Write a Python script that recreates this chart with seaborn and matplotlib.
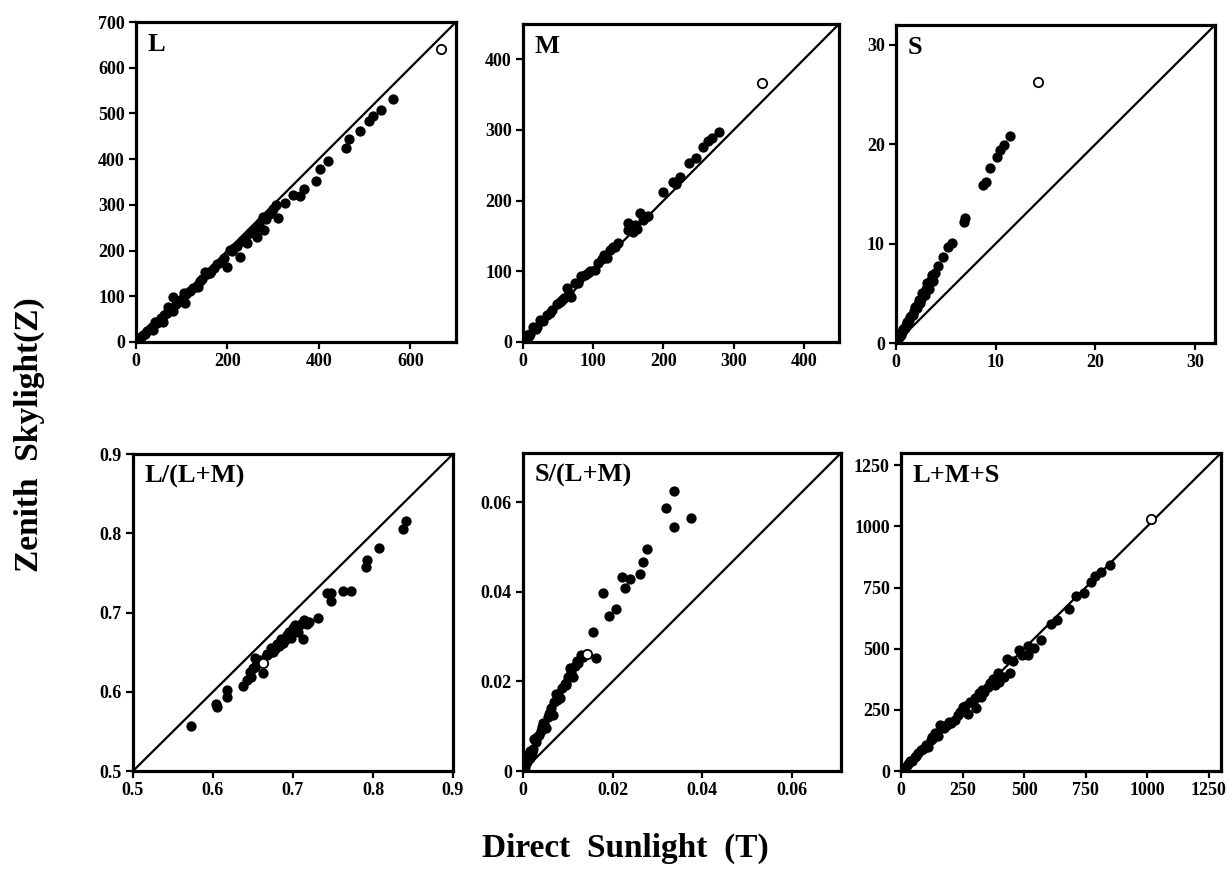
import numpy as np
import pandas as pd
import matplotlib
matplotlib.use("Agg")
import matplotlib.pyplot as plt
import seaborn as sns

sns.set_style("ticks")
plt.rcParams["font.family"] = ["Liberation Serif", "DejaVu Serif"]
plt.rcParams["font.weight"] = "bold"
for key in ["text.color", "axes.edgecolor", "axes.labelcolor", "xtick.color", "ytick.color"]:
    plt.rcParams[key] = "black"

# ---- data (T = direct sunlight, Z = zenith skylight) ----
l_x = [562, 535, 518, 510, 490, 467, 460, 419, 403, 393, 368, 359, 344, 326, 306, 310,
       277, 290, 279, 264, 242, 228, 206, 198, 162, 151, 165, 136, 104, 107, 82, 71, 82,
       60, 42, 38, 16, 9,
       5, 12, 20, 25, 30, 35, 45, 50, 55, 62, 68, 75, 88, 95, 100, 110, 118, 125, 140,
       145, 155, 170, 178, 185, 192, 210, 215, 220, 232, 238, 250, 255, 260, 268, 285, 295, 300]
l_y = [531, 508, 494, 484, 462, 444, 425, 396, 378, 352, 335, 319, 321, 303, 300, 271,
       273, 280, 245, 230, 216, 187, 201, 165, 150, 154, 155, 121, 107, 85, 98, 77, 67,
       44, 44, 26, 15, 8,
       5, 11, 18, 24, 28, 33, 42, 46, 52, 58, 63, 70, 83, 90, 95, 104, 112, 118, 133,
       138, 148, 162, 170, 176, 183, 200, 206, 211, 220, 228, 238, 244, 248, 255, 268, 282, 290]
l_open = ([667], [641])

m_x = [278.5, 268.5, 264, 257, 246, 236, 223, 214, 218, 199, 178, 167, 171, 150, 150, 157,
       130.5, 124, 119, 107, 102, 95, 83, 74, 62, 69, 52.5, 48, 33.6, 24, 14.7, 5,
       2, 8, 10, 18, 20, 28, 38, 42, 55, 58, 65, 78, 88, 92, 112, 115, 128, 135, 160, 163, 175]
m_y = [297, 289, 285, 276, 261, 253, 233, 227, 224, 212, 178, 183, 173, 168, 159, 156,
       135, 130, 119, 112, 102, 100, 93, 83, 76, 64, 57, 54, 38, 31, 21.7, 10,
       2, 8, 11, 19, 21, 30, 41, 45, 59, 62, 69, 83, 95, 98, 117, 123, 134, 140, 165, 160, 177]
m_open = ([341], [367])

s_x = [11.4, 10.8, 10.4, 10.1, 9.4, 9.0, 8.7, 6.9, 6.8, 5.6, 5.2, 4.7, 4.2, 3.9,
       3.5, 3.2, 3.0, 2.7, 2.5, 2.2, 2.0, 1.8, 1.5, 1.3, 1.0, 0.8, 0.6, 0.4, 0.2,
       3.7, 3.3, 2.9, 2.4, 2.1, 1.7, 1.2, 0.9, 0.5,
       3.6, 3.1, 2.6, 2.3, 1.9, 1.4, 1.1, 0.7]
s_y = [20.8, 19.9, 19.4, 18.7, 17.6, 16.2, 15.9, 12.6, 12.2, 10.1, 9.7, 8.7, 7.7, 7.0,
       6.3, 5.7, 5.4, 4.9, 4.4, 3.9, 3.6, 3.2, 2.7, 2.3, 1.8, 1.4, 1.1, 0.7, 0.4,
       6.2, 5.4, 4.8, 4.0, 3.5, 2.8, 2.0, 1.5, 0.8,
       6.8, 6.0, 5.0, 4.3, 3.6, 2.6, 2.1, 1.4]
s_open = ([14.2], [26.3])

r_x = [0.841, 0.837, 0.808, 0.792, 0.791, 0.773, 0.763, 0.748, 0.743, 0.748, 0.731, 0.720,
       0.713, 0.705, 0.702, 0.699, 0.695, 0.691, 0.687, 0.683, 0.677, 0.673, 0.667, 0.66,
       0.6525, 0.663, 0.648, 0.642, 0.638, 0.617, 0.617, 0.604, 0.605, 0.5725,
       0.655, 0.668, 0.672, 0.675, 0.68, 0.685, 0.688, 0.692, 0.695, 0.698, 0.70, 0.703,
       0.706, 0.71, 0.714, 0.717, 0.65, 0.646, 0.653, 0.658]
r_y = [0.8156, 0.805, 0.781, 0.766, 0.758, 0.727, 0.727, 0.725, 0.724, 0.714, 0.693, 0.6875,
       0.667, 0.682, 0.678, 0.674, 0.670, 0.666, 0.662, 0.658, 0.654, 0.650, 0.646, 0.640,
       0.6315, 0.624, 0.619, 0.615, 0.607, 0.602, 0.594, 0.584, 0.581, 0.557,
       0.637, 0.648, 0.655, 0.65, 0.66, 0.666, 0.662, 0.672, 0.676, 0.668, 0.68, 0.684,
       0.676, 0.686, 0.69, 0.685, 0.63, 0.625, 0.643, 0.639]
r_open = ([0.663], [0.636])

b_x = [0.0337, 0.0319, 0.0375, 0.0337, 0.0276, 0.0267, 0.0262, 0.0240, 0.0221, 0.0227,
       0.0179, 0.0207, 0.0192, 0.0157, 0.0163, 0.0129, 0.0123, 0.0105, 0.0112, 0.0097,
       0.0074, 0.0082, 0.006, 0.0067, 0.0045, 0.0052, 0.0032,
       0.0005, 0.001, 0.0015, 0.002, 0.0022, 0.0028, 0.0035, 0.004, 0.0048, 0.0055,
       0.0063, 0.007, 0.0078, 0.0088, 0.0093, 0.010, 0.0108, 0.0115, 0.012, 0.0135,
       0.0015, 0.001, 0.0003, 0.0025, 0.0042, 0.0058, 0.0075, 0.0095]
b_y = [0.0626, 0.0587, 0.0565, 0.0545, 0.0496, 0.0466, 0.044, 0.0428, 0.0434, 0.0408,
       0.0397, 0.0361, 0.0347, 0.0310, 0.0252, 0.026, 0.0241, 0.0229, 0.0210, 0.0196,
       0.0171, 0.0163, 0.0132, 0.0125, 0.0108, 0.0097, 0.0075,
       0.0008, 0.002, 0.003, 0.004, 0.005, 0.0065, 0.008, 0.009, 0.0105, 0.012,
       0.014, 0.0155, 0.017, 0.0185, 0.0195, 0.021, 0.0222, 0.0235, 0.0245, 0.0255,
       0.0045, 0.0035, 0.0012, 0.0072, 0.0098, 0.0128, 0.0158, 0.0192]
b_open = ([0.0142], [0.0261])

t_x = [850, 812, 789, 771, 742, 711, 684, 634, 608, 570, 540, 516, 516, 480, 493, 457,
       430, 442, 419, 399, 383, 352, 339, 325, 305, 292, 272, 251, 238, 218, 205, 171,
       158, 137, 124,
       5, 12, 20, 30, 38, 45, 55, 62, 70, 80, 90, 100, 110, 120, 130, 145, 150, 165,
       175, 185, 195, 230, 260, 280, 300, 315, 330, 360, 375, 395]
t_y = [844, 814, 797, 773, 728, 714, 664, 619, 600, 535, 501, 510, 473, 494, 473, 450,
       456, 401, 385, 364, 350, 344, 324, 303, 256, 283, 235, 262, 242, 208, 195, 181,
       188, 154, 140,
       5, 12, 18, 28, 40, 42, 58, 60, 72, 85, 88, 105, 100, 125, 135, 150, 145, 185,
       175, 190, 200, 230, 265, 282, 300, 318, 330, 360, 378, 400]
t_open = ([1017], [1029])

panel_names = ["L", "M", "S", "L/(L+M)", "S/(L+M)", "L+M+S"]
panel_filled = [(l_x, l_y), (m_x, m_y), (s_x, s_y), (r_x, r_y), (b_x, b_y), (t_x, t_y)]
panel_open = [l_open, m_open, s_open, r_open, b_open, t_open]
panel_lims = [(0, 700), (0, 450), (0, 32), (0.5, 0.9), (0, 0.071), (0, 1300)]
x_ticks = [[0, 200, 400, 600], [0, 100, 200, 300, 400], [0, 10, 20, 30],
           [0.5, 0.6, 0.7, 0.8, 0.9], [0, 0.02, 0.04, 0.06], [0, 250, 500, 750, 1000, 1250]]
y_ticks = [[0, 100, 200, 300, 400, 500, 600, 700], [0, 100, 200, 300, 400], [0, 10, 20, 30],
           [0.5, 0.6, 0.7, 0.8, 0.9], [0, 0.02, 0.04, 0.06], [0, 250, 500, 750, 1000, 1250]]
x_labels = [["0", "200", "400", "600"], ["0", "100", "200", "300", "400"], ["0", "10", "20", "30"],
            ["0.5", "0.6", "0.7", "0.8", "0.9"], ["0", "0.02", "0.04", "0.06"],
            ["0", "250", "500", "750", "1000", "1250"]]
y_labels = [["0", "100", "200", "300", "400", "500", "600", "700"], ["0", "100", "200", "300", "400"],
            ["0", "10", "20", "30"], ["0.5", "0.6", "0.7", "0.8", "0.9"],
            ["0", "0.02", "0.04", "0.06"], ["0", "250", "500", "750", "1000", "1250"]]

W, H = 1231, 886
# axes boxes in pixels: left, right, top, bottom
boxes = [(136, 456, 22, 342), (523, 839, 24, 342), (896, 1215, 25, 343),
         (133, 453, 454, 771), (523, 841, 453, 771), (901, 1221, 453, 771)]

fig = plt.figure(figsize=(W / 100, H / 100), dpi=100)

for i in range(6):
    l, r, t, b = boxes[i]
    ax = fig.add_axes([l / W, 1 - b / H, (r - l) / W, (b - t) / H])
    lo, hi = panel_lims[i]
    ax.plot([lo, hi], [lo, hi], color="black", lw=1.6, zorder=1)
    fx, fy = panel_filled[i]
    df = pd.DataFrame({"T": fx, "Z": fy})
    sns.scatterplot(data=df, x="T", y="Z", ax=ax, color="black", s=55,
                    edgecolor="black", linewidth=0, zorder=3)
    ox, oy = panel_open[i]
    sns.scatterplot(x=ox, y=oy, ax=ax, color="white", s=45,
                    edgecolor="black", linewidth=1.3, zorder=4)
    ax.set_xlim(lo, hi)
    ax.set_ylim(lo, hi)
    ax.set_xticks(x_ticks[i])
    ax.set_xticklabels(x_labels[i])
    ax.set_yticks(y_ticks[i])
    ax.set_yticklabels(y_labels[i])
    ax.set_xlabel("")
    ax.set_ylabel("")
    for sp in ax.spines.values():
        sp.set_visible(True)
        sp.set_linewidth(2.3)
        sp.set_color("black")
    ax.tick_params(direction="out", length=5, width=1.6, labelsize=13, pad=3, colors="black")
    for lab in ax.get_xticklabels() + ax.get_yticklabels():
        lab.set_fontweight("bold")
    ax.text(0.035, 0.965, panel_names[i], transform=ax.transAxes, ha="left", va="top",
            fontsize=19, fontweight="bold", color="black")

fig.text(0.024, 0.509, "Zenith  Skylight(Z)", rotation=90, ha="center", va="center",
         fontsize=24, fontweight="bold", color="black")
fig.text(0.508, 0.043, "Direct  Sunlight  (T)", ha="center", va="center",
         fontsize=24, fontweight="bold", color="black")

fig.savefig("out.png", dpi=100, facecolor="white")
